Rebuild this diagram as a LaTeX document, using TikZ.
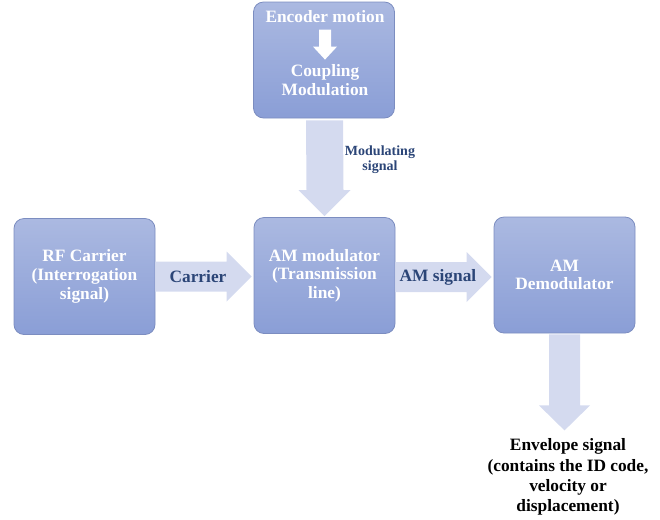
\documentclass[tikz,border=0pt]{standalone}
\usepackage{fontspec}
\setmainfont{Liberation Serif}
\usetikzlibrary{calc}
\definecolor{boxtop}{HTML}{ABB9E1}
\definecolor{boxbot}{HTML}{8A9ED6}
\definecolor{boxline}{HTML}{7C8DC0}
\definecolor{flowfill}{HTML}{D4DAEF}
\definecolor{labelblue}{HTML}{2B4577}
\tikzset{
  blockbox/.style={draw=boxline, line width=0.6pt, rounded corners=7.5pt,
    top color=boxtop, bottom color=boxbot, minimum width=105.75pt,
    minimum height=87pt, inner sep=0pt, align=center, text=white,
    font=\bfseries\fontsize{13}{14}\selectfont},
  flowarrow/.style={fill=flowfill},
  flowlabel/.style={text=labelblue, align=center,
    font=\bfseries\fontsize{13}{14}\selectfont}
}
\begin{document}
\begin{tikzpicture}[x=0.75pt, y=-0.75pt]
        \useasboundingbox (0,0) rectangle (660,519);
        % Blocks
        \node[blockbox] (enc) at (324,60) {};
        \node[blockbox] (rf) at (84.5,276.5) {RF Carrier\\(Interrogation\\signal)};
        \node[blockbox] (mod) at (324.5,275.5) {AM modulator\\(Transmission\\line)};
        \node[blockbox] (demod) at (564.5,275) {AM\\Demodulator};
        % Text inside the top block
        \node[text=white, font=\bfseries\fontsize{13}{14}\selectfont] (enctext) at (325,17) {Encoder motion};
        \node[text=white, align=center, font=\bfseries\fontsize{13}{14}\selectfont] (coupling) at (325,80) {Coupling\\Modulation};
        \fill[white] ($(enc.north)+(-5,28)$) -- ($(enc.north)+(7,28)$) -- ($(enc.north)+(7,45)$)
          -- ($(enc.north)+(13,45)$) -- ($(enc.north)+(1,58)$) -- ($(enc.north)+(-11,45)$)
          -- ($(enc.north)+(-5,45)$) -- cycle;
        % Modulating signal arrow
        \coordinate (modtip) at ($(mod.north)+(0,-1)$);
        \coordinate (modbase) at (enc.south |- enc.south);
        \fill[flowarrow] ($(modbase)+(-18,2)$) -- ($(modbase)+(19,2)$) -- ($(modtip)+(19,-26)$)
          -- ($(modtip)+(26,-26)$) -- (modtip) -- ($(modtip)+(-26,-26)$)
          -- ($(modtip)+(-18,-26)$) -- cycle;
        \node[flowlabel, font=\bfseries\fontsize{10.5}{11.5}\selectfont] (modlabel) at (380,160) {Modulating\\signal};
        % Carrier arrow
        \coordinate (cartip) at ($(mod.west)+(-2,1)$);
        \coordinate (carbase) at (rf.east |- cartip);
        \fill[flowarrow] ($(carbase)+(0,-15)$) -- ($(cartip)+(-25,-15)$) -- ($(cartip)+(-25,-25)$)
          -- (cartip) -- ($(cartip)+(-25,25)$) -- ($(cartip)+(-25,15)$)
          -- ($(carbase)+(0,15)$) -- cycle;
        \node[flowlabel] (carlabel) at (198,277) {Carrier};
        % AM signal arrow
        \coordinate (amtip) at ($(demod.west)+(-2,2)$);
        \coordinate (ambase) at (mod.east |- amtip);
        \fill[flowarrow] ($(ambase)+(0,-15)$) -- ($(amtip)+(-25,-15)$) -- ($(amtip)+(-25,-25)$)
          -- (amtip) -- ($(amtip)+(-25,25)$) -- ($(amtip)+(-25,15)$)
          -- ($(ambase)+(0,15)$) -- cycle;
        \node[flowlabel] (amlabel) at (438,277) {AM signal};
        % Envelope arrow
        \coordinate (envtip) at ($(demod.south)+(0,97)$);
        \fill[flowarrow] ($(demod.south)+(-15.5,1)$) -- ($(demod.south)+(15.5,1)$) -- ($(envtip)+(15.5,-25)$)
          -- ($(envtip)+(25.5,-25)$) -- (envtip) -- ($(envtip)+(-25.5,-25)$)
          -- ($(envtip)+(-15.5,-25)$) -- cycle;
        \node[align=center, font=\bfseries\fontsize{13}{15.2}\selectfont] (envelope) at (568,477)
          {Envelope signal\\(contains the ID code,\\velocity or\\displacement)};
\end{tikzpicture}
\end{document}
